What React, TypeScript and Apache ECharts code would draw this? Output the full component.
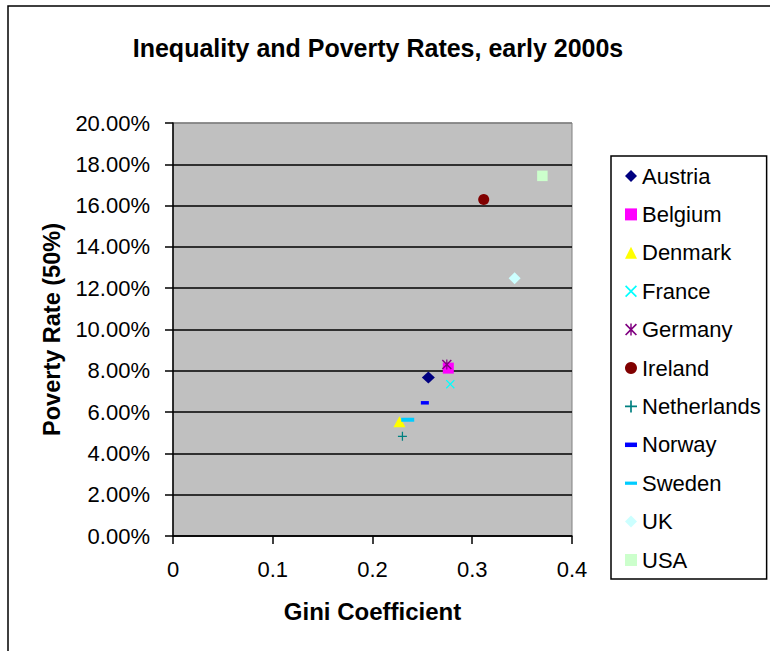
import React, { useEffect, useRef } from "react";
import * as echarts from "echarts";

const countries = ["Austria", "Belgium", "Denmark", "France", "Germany", "Ireland", "Netherlands", "Norway", "Sweden", "UK", "USA"];
const giniValues = [0.256, 0.276, 0.227, 0.278, 0.2745, 0.3115, 0.230, 0.2525, 0.2353, 0.3425, 0.3703];
const povertyValues = [0.0768, 0.0813, 0.0553, 0.0735, 0.0831, 0.1630, 0.0483, 0.0645, 0.0563, 0.1248, 0.1744];
const colors = ["#000080", "#FF00FF", "#FFFF00", "#00FFFF", "#800080", "#800000", "#008080", "#0000FF", "#00CCFF", "#CCFFFF", "#CCFFCC"];
const yTicks = [0, 0.02, 0.04, 0.06, 0.08, 0.1, 0.12, 0.14, 0.16, 0.18, 0.2];
const xTicks = [0, 0.1, 0.2, 0.3, 0.4];

const X_PATH = "path://M0,1L1,0L5,4L9,0L10,1L6,5L10,9L9,10L5,6L1,10L0,9L4,5Z";
const STAR_PATH = "path://M0,1L1,0L5,4L9,0L10,1L6,5L10,9L9,10L5,6L1,10L0,9L4,5ZM4.4,0L5.6,0L5.6,10L4.4,10Z";
const PLUS_PATH = "path://M4.3,0L5.7,0L5.7,4.3L10,4.3L10,5.7L5.7,5.7L5.7,10L4.3,10L4.3,5.7L0,5.7L0,4.3L4.3,4.3Z";

const symbols: any[] = ["diamond", "rect", "triangle", X_PATH, STAR_PATH, "circle", PLUS_PATH, "rect", "rect", "diamond", "rect"];
const symbolSizes: any[] = [[13, 12], 11, [12, 11], 9, 10, 11, 9, [8, 3.5], [13, 4], 12, 10.5];
const legendIcons: any[] = [
  "path://M5,0L10,5L5,10L0,5Z",
  "rect",
  "triangle",
  X_PATH,
  STAR_PATH,
  "circle",
  PLUS_PATH,
  "path://M0,0L8,0L8,3L0,3Z",
  "path://M0,0L13,0L13,3.5L0,3.5Z",
  "diamond",
  "rect",
];

const FONT = "Arial, 'Liberation Sans', sans-serif";

export default function App() {
  const ref = useRef<HTMLDivElement>(null);
  useEffect(() => {
    if (!ref.current) return;
    const chart = echarts.init(ref.current, undefined, { renderer: "svg" });
    const splitColors = yTicks.map((_, i) => (i === yTicks.length - 1 ? "#808080" : "#000000"));
    chart.setOption({
      animation: false,
      backgroundColor: "#ffffff",
      textStyle: { fontFamily: FONT },
      graphic: [
        {
          type: "rect",
          shape: { x: 8, y: 6, width: 900, height: 800 },
          style: { fill: "none", stroke: "#000", lineWidth: 1.5 },
          silent: true,
          z: -10,
        },
        {
          type: "text",
          x: 378,
          y: 48,
          style: {
            text: "Inequality and Poverty Rates, early 2000s",
            fontFamily: FONT,
            fontWeight: "bold",
            fontSize: 25,
            fill: "#000",
            textAlign: "center",
            textVerticalAlign: "middle",
          },
        },
      ],
      grid: {
        left: 173,
        right: 198,
        top: 123,
        bottom: 115,
        show: true,
        backgroundColor: "#C0C0C0",
        borderColor: "#808080",
        borderWidth: 1,
      },
      legend: {
        orient: "vertical",
        left: 611,
        top: 156,
        padding: [9, 6, 8, 14],
        itemWidth: 12,
        itemHeight: 12,
        itemGap: 16.4,
        borderColor: "#000",
        borderWidth: 1.5,
        backgroundColor: "#fff",
        textStyle: { fontFamily: FONT, fontSize: 22, color: "#000", lineHeight: 22 },
        data: countries.map((c, i) => ({ name: c, icon: legendIcons[i] })),
      },
      xAxis: {
        type: "value",
        min: 0,
        max: 0.4,
        interval: 0.1,
        name: "Gini Coefficient",
        nameLocation: "middle",
        nameGap: 63,
        nameTextStyle: { fontFamily: FONT, fontSize: 24, fontWeight: "bold", color: "#000" },
        axisLine: { show: true, onZero: false, lineStyle: { color: "#000", width: 1.5 } },
        axisTick: { show: true, inside: false, length: 8, lineStyle: { color: "#000", width: 1.5 } },
        axisLabel: {
          margin: 22,
          fontFamily: FONT,
          fontSize: 22,
          color: "#000",
          formatter: (v: number) => String(+v.toFixed(1)),
        },
        splitLine: { show: false },
      },
      yAxis: {
        type: "value",
        min: 0,
        max: 0.2,
        interval: 0.02,
        name: "Poverty Rate (50%)",
        nameLocation: "middle",
        nameGap: 109,
        nameRotate: 90,
        nameTextStyle: { fontFamily: FONT, fontSize: 23.5, fontWeight: "bold", color: "#000" },
        axisLine: { show: true, onZero: false, lineStyle: { color: "#000", width: 1.5 } },
        axisTick: { show: true, inside: false, length: 8, lineStyle: { color: "#000", width: 1.5 } },
        axisLabel: {
          margin: 23,
          fontFamily: FONT,
          fontSize: 22,
          color: "#000",
          formatter: (v: number) => (v * 100).toFixed(2) + "%",
        },
        splitLine: { show: true, lineStyle: { color: splitColors, width: 1.5 } },
      },
      series: countries.map((c, i) => ({
        name: c,
        type: "scatter",
        symbol: symbols[i],
        symbolSize: symbolSizes[i],
        symbolKeepAspect: false,
        itemStyle: { color: colors[i], opacity: 1 },
        data: [[giniValues[i], povertyValues[i]]],
      })),
    });
    return () => chart.dispose();
  }, []);
  return (
    <div
      ref={ref}
      style={{ position: "fixed", left: 0, top: 0, width: 770, height: 651, background: "#fff" }}
    />
  );
}
